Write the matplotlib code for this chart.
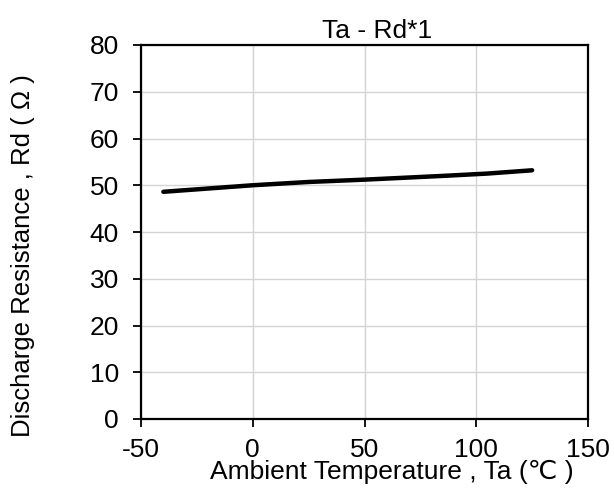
import matplotlib
matplotlib.use("Agg")
import matplotlib.pyplot as plt

plt.rcParams['font.family'] = ['Liberation Sans', 'DejaVu Sans']
plt.rcParams['axes.unicode_minus'] = False

ta = [-40, -20, 0, 25, 50, 85, 105, 125]
rd = [48.6, 49.3, 50.0, 50.7, 51.2, 52.0, 52.5, 53.2]

x_ticks = [-50, 0, 50, 100, 150]
y_ticks = [0, 10, 20, 30, 40, 50, 60, 70, 80]

fig = plt.figure(figsize=(6.14, 5.0), dpi=100)
ax = fig.add_axes([141/614, 1 - 419/500, (588-141)/614, (419-45)/500])
ax.plot(ta, rd, color='black', lw=3.2, solid_capstyle='round', solid_joinstyle='round', zorder=3)
ax.set_xlim(-50, 150)
ax.set_ylim(0, 80)
ax.set_xticks(x_ticks)
ax.set_yticks(y_ticks)
ax.grid(True, color='#d4d4d4', lw=1.0)
ax.set_axisbelow(True)
for s in ax.spines.values():
    s.set_linewidth(1.6)
ax.tick_params(direction='out', length=6, width=1.3, labelsize=19)
ax.tick_params(axis='y', pad=10)
ax.tick_params(axis='x', pad=8)
ax.set_title('Ta - Rd*1', fontsize=19, pad=5, x=0.528)
ax.set_xlabel('Ambient Temperature , Ta (℃ )', fontsize=19)
ax.xaxis.set_label_coords(0.56, -0.11)
ax.set_ylabel('Discharge Resistance , Rd ( Ω )', fontsize=18.5)
ax.yaxis.set_label_coords(-0.237, 0.436)
fig.savefig('out.png', dpi=100)
